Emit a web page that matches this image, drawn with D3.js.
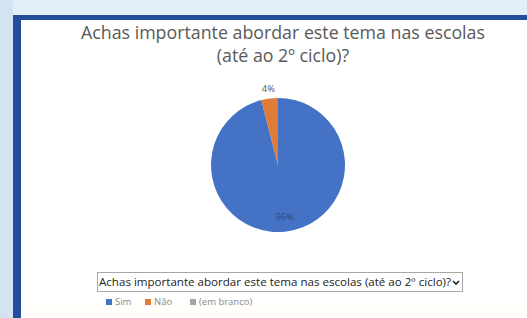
<!DOCTYPE html>
<html lang="pt">
<head>
<meta charset="UTF-8">
<title>Achas importante abordar este tema nas escolas</title>
<script src="https://cdnjs.cloudflare.com/ajax/libs/d3/7.8.5/d3.min.js"></script>
<style>
  html, body { margin: 0; padding: 0; }
  body { width: 527px; height: 318px; overflow: hidden; background: #e4eef8; }
  svg { display: block; font-family: 'Open Sans', 'Noto Sans', sans-serif; }
</style>
</head>
<body>
<div id="chart"></div>
<script>
const categories = ["Sim", "Não", "(em branco)"];
const values = [96, 4, 0];
const labels = ["96%", "4%", ""];
const colors = ["#4472c4", "#e07b39", "#a5a5a5"];
const titleLines = ["Achas importante abordar este tema nas escolas", "(até ao 2º ciclo)?"];
const filterText = "Achas importante abordar este tema nas escolas (até ao 2º ciclo)?";

const W = 527, H = 318;
const svg = d3.select("#chart").append("svg").attr("width", W).attr("height", H);

// background panels + dark blue frame
svg.append("rect").attr("x", 0).attr("y", 0).attr("width", 13).attr("height", H).attr("fill", "#d3e3f1");
svg.append("rect").attr("x", 13).attr("y", 15).attr("width", W - 13).attr("height", H - 15).attr("fill", "#234c9a");
svg.append("rect").attr("x", 21).attr("y", 20).attr("width", W - 21).attr("height", H - 20).attr("fill", "#ffffff");
svg.append("rect").attr("x", 21).attr("y", 303).attr("width", W - 21).attr("height", 15).attr("fill", "#fffefa");

// title
svg.append("g").selectAll("text").data(titleLines).join("text")
  .attr("x", 283).attr("y", (d, i) => 39 + i * 23)
  .attr("text-anchor", "middle")
  .attr("font-size", 17.8)
  .attr("fill", "#595959")
  .text(d => d);

// pie
const cx = 278, cy = 165, r = 67;
const data = categories.map((c, i) => ({ cat: c, value: values[i], label: labels[i], color: colors[i] }));
const pie = d3.pie().sort(null).value(d => d.value);
const arc = d3.arc().innerRadius(0).outerRadius(r);
const g = svg.append("g").attr("transform", `translate(${cx},${cy})`);
const arcs = pie(data).filter(d => d.data.value > 0);
g.selectAll("path").data(arcs).join("path")
  .attr("d", arc)
  .attr("fill", d => d.data.color);

// data labels: big slice inside, small slice outside
const inner = d3.arc().innerRadius(r * 0.78).outerRadius(r * 0.78);
g.selectAll("text.lbl").data(arcs).join("text")
  .attr("class", "lbl")
  .attr("transform", d => {
    if (d.data.value > 50) {
      const [x, y] = inner.centroid(d);
      return `translate(${x},${y})`;
    }
    const a = (d.startAngle + d.endAngle) / 2;
    return `translate(${Math.sin(a) * (r + 10)},${-Math.cos(a) * (r + 10)})`;
  })
  .attr("text-anchor", "middle")
  .attr("dy", "0.35em")
  .attr("font-size", 9.5)
  .attr("fill", d => d.data.value > 50 ? "#2f4a80" : "#595959")
  .text(d => d.data.label);

// filter box
svg.append("rect").attr("x", 97.5).attr("y", 272.5).attr("width", 365).attr("height", 19)
  .attr("fill", "#ffffff").attr("stroke", "#a6a6a6");
svg.append("text").attr("x", 99).attr("y", 286)
  .attr("font-size", 11.5).attr("fill", "#222")
  .attr("textLength", 352).attr("lengthAdjust", "spacingAndGlyphs")
  .text(filterText);
svg.append("path").attr("d", "M453,281 l3,3 l3,-3").attr("fill", "none").attr("stroke", "#222").attr("stroke-width", 1.6);

// legend
const lx = [106, 145, 190];
const leg = svg.append("g").selectAll("g").data(data).join("g")
  .attr("transform", (d, i) => `translate(${lx[i]},302)`);
leg.append("rect").attr("x", 0).attr("y", -3).attr("width", 6).attr("height", 6).attr("fill", d => d.color);
leg.append("text").attr("x", 9).attr("y", 3.3).attr("font-size", 9.5).attr("fill", "#8a8a8a").text(d => d.cat);
</script>
</body>
</html>
